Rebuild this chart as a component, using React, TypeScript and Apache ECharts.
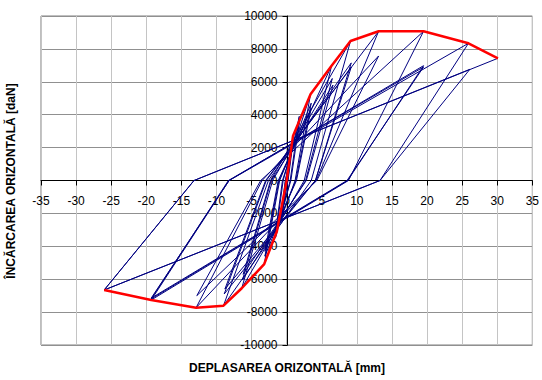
import React, { useEffect, useRef } from "react";
import * as echarts from "echarts";

// Hysteresis loop, grouped by displacement amplitude level: [displacement mm, load daN]
const loopStart: number[][] = [[0, 0]];
const levelA: number[][] = [[0.9, 2600], [0.15, 0], [-0.8, -2400], [-0.15, 0], [0.9, 2300], [0.2, 0], [-0.8, -2100], [-0.2, 0]];
const levelB: number[][] = [[1.8, 3900], [0.5, 0], [-1.6, -3500], [-0.5, 0], [1.8, 3500], [0.6, 0], [-1.6, -3200], [-0.6, 0]];
const levelC: number[][] = [[3.4, 5240], [1.2, 0], [-3.2, -5080], [-1.0, 0], [3.5, 4700], [1.3, 0], [-3.1, -4600], [-1.1, 0], [3.5, 4400], [1.4, 0], [-3.1, -4300], [-1.2, 0]];
const levelD: number[][] = [[6.4, 6980], [2.5, 0], [-6.4, -6550], [-2.0, 0], [6.5, 6200], [2.7, 0], [-6.3, -6050], [-2.2, 0], [6.6, 5800], [2.8, 0], [-6.2, -5700], [-2.3, 0]];
const levelE: number[][] = [[9.1, 8480], [3.5, 0], [-9.0, -7610], [-2.6, 0], [9.2, 7150], [4.1, 0], [-8.9, -6900], [-2.9, 0], [9.2, 6900], [4.1, 0], [-8.8, -6600], [-3.0, 0]];
const levelF: number[][] = [[13.1, 9070], [4.2, 0], [-12.9, -7730], [-3.5, 0], [13.1, 7570], [4.3, 0], [-12.8, -7000], [-3.7, 0]];
const levelG: number[][] = [[19.5, 9070], [8.8, 0], [-19.3, -7265], [-8.2, 0], [19.5, 6980], [8.7, 0], [-19.3, -7200], [-8.3, 0], [19.5, 6900], [8.6, 0], [-19.3, -7150], [-8.2, 0]];
const levelH: number[][] = [[25.9, 8340], [13.3, 0], [-26.0, -6656], [-13.2, 0], [26.1, 6760], [13.3, 0], [-26.0, -6656], [-13.2, 0], [30.1, 7430]];

// Envelope curve (red)
const envelope: number[][] = [
  [-26.0, -6656], [-19.3, -7265], [-12.9, -7730], [-9.0, -7610], [-6.4, -6550], [-3.2, -5080],
  [-1.4, -3100], [0, 0], [0.9, 2700], [3.4, 5240], [6.4, 6980], [9.1, 8480], [13.1, 9070],
  [19.5, 9070], [25.9, 8340], [30.1, 7430],
];

const xTitle = "DEPLASAREA ORIZONTALĂ [mm]";
const yTitle = "ÎNCĂRCAREA ORIZONTALĂ [daN]";

const FONT = '"Liberation Sans", Arial, sans-serif';

const GRID_LEFT = 41;
const GRID_RIGHT = 8;
const GRID_TOP = 16;
const GRID_BOTTOM = 35;
const W = 542;
const H = 380;

export default function App() {
  const ref = useRef<HTMLDivElement>(null);
  useEffect(() => {
    if (!ref.current) return;
    const chart = echarts.init(ref.current, undefined, { renderer: "svg" });
    const loop = [...loopStart, ...levelA, ...levelB, ...levelC, ...levelD, ...levelE, ...levelF, ...levelG, ...levelH];
    const plotW = W - GRID_LEFT - GRID_RIGHT;
    const plotH = H - GRID_TOP - GRID_BOTTOM;
    // shift axes from the grid edges to the zero lines
    const xOffset = -plotH / 2;
    const yOffset = -plotW / 2;
    chart.setOption({
      animation: false,
      backgroundColor: "#ffffff",
      grid: { left: GRID_LEFT, right: GRID_RIGHT, top: GRID_TOP, bottom: GRID_BOTTOM, show: true, borderColor: "#808080", borderWidth: 1 },
      xAxis: {
        type: "value",
        min: -35,
        max: 35,
        interval: 5,
        position: "bottom",
        offset: xOffset,
        axisLine: { onZero: false, lineStyle: { color: "#000", width: 1 } },
        axisTick: { show: true, length: 5, lineStyle: { color: "#000" } },
        axisLabel: { margin: 14, fontSize: 12, color: "#000", fontFamily: FONT, showMinLabel: true, showMaxLabel: true, formatter: (v: number) => String(v) },
        splitLine: { show: true, lineStyle: { color: "#c4c4c4", width: 1 } },
      },
      yAxis: {
        type: "value",
        min: -10000,
        max: 10000,
        interval: 2000,
        position: "left",
        offset: yOffset,
        axisLine: { onZero: false, lineStyle: { color: "#000", width: 1 } },
        axisTick: { show: true, length: 5, lineStyle: { color: "#000" } },
        axisLabel: { margin: 10, fontSize: 12, color: "#000", fontFamily: FONT, showMinLabel: true, showMaxLabel: true, formatter: (v: number) => String(v) },
        splitLine: { show: true, lineStyle: { color: "#909090", width: 1 } },
      },
      series: [
        {
          type: "line",
          data: loop,
          symbol: "none",
          lineStyle: { color: "#000080", width: 1 },
          z: 2,
        },
        {
          type: "line",
          data: envelope,
          symbol: "none",
          lineStyle: { color: "#ff0000", width: 2.5 },
          z: 3,
        },
      ],
      graphic: [
        {
          type: "text",
          x: 287,
          y: 368,
          style: { text: xTitle, font: `bold 12px ${FONT}`, fill: "#000", textAlign: "center", textVerticalAlign: "middle" },
        },
        {
          type: "text",
          x: 11,
          y: 181,
          rotation: Math.PI / 2,
          style: { text: yTitle, font: `bold 12px ${FONT}`, fill: "#000", textAlign: "center", textVerticalAlign: "middle" },
        },
      ],
    });
    return () => chart.dispose();
  }, []);
  return <div ref={ref} style={{ position: "absolute", left: 0, top: 0, width: W, height: H }} />;
}
